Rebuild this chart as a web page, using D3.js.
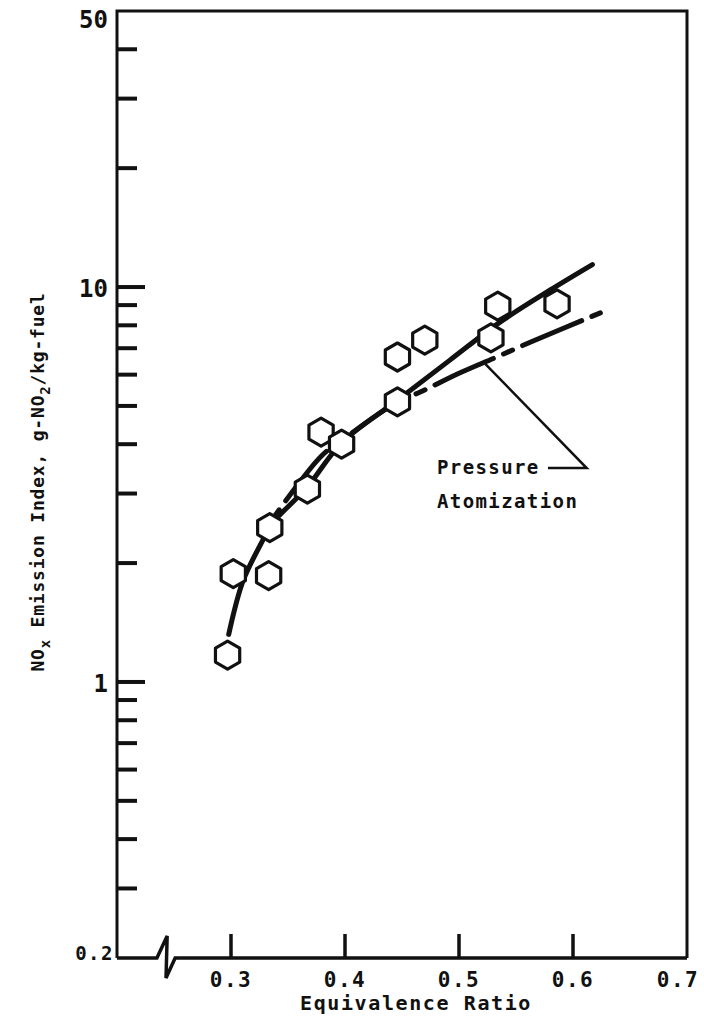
<!DOCTYPE html>
<html>
<head>
<meta charset="utf-8">
<script src="https://cdn.jsdelivr.net/npm/d3@7"></script>
<style>
  html, body { margin: 0; padding: 0; background: #fff; }
  svg { display: block; }
  text { font-family: "DejaVu Sans Mono", "Liberation Mono", monospace; fill: #111; font-weight: bold; }
</style>
</head>
<body>
<svg id="chart" width="704" height="1019"></svg>
<script>
// Equivalence ratio of each measured point and its NOx emission index (g-NO2/kg-fuel)
const phi   = [0.297, 0.302, 0.333, 0.334, 0.367, 0.379, 0.397, 0.446, 0.446, 0.470, 0.528, 0.534, 0.586];
const noxEI = [1.17,  1.88,  1.86,  2.46,  3.08,  4.29,  4.00,  6.65,  5.12,  7.34,  7.43,  8.95,  9.06];

// Fitted curve through all points
const fitPhi = [0.298, 0.3105, 0.328, 0.334, 0.367, 0.397, 0.446, 0.492, 0.536, 0.580, 0.617];
const fitEI  = [1.32,  1.80,   2.29,  2.48,  3.12,  4.03,  5.17,  6.53,  8.15,  9.83,  11.4];

// Pressure atomization curve
const paPhi = [0.335, 0.360, 0.380, 0.400, 0.446, 0.466, 0.500, 0.533, 0.565, 0.624];
const paEI  = [2.55,  3.20,  3.75,  4.15,  5.12,  5.42,  6.05,  6.65,  7.30,  8.60];

// Axis ticks
const xTicks = [0.3, 0.4, 0.5, 0.6, 0.7];
const yMajorTicks = [1, 10];
const yMinorTicks = [0.3, 0.4, 0.5, 0.6, 0.7, 0.8, 0.9, 2, 3, 4, 5, 6, 7, 8, 9, 20, 30, 40];
const yTickLabels = [0.2, 1, 10, 50];

const svg = d3.select("#chart");
const x = d3.scaleLinear().domain([0.2, 0.7]).range([117, 687]);
const y = d3.scaleLog().domain([0.2, 50]).range([958, 11]);
const y0 = y(0.2);

// Frame: left, top and right sides
svg.append("path")
  .attr("d", `M${x(0.2)},${y0} L${x(0.2)},${y(50)} L${x(0.7)},${y(50)} L${x(0.7)},${y0}`)
  .attr("fill", "none").attr("stroke", "#111").attr("stroke-width", 3);

// Bottom axis with a scale break near the origin
svg.append("path")
  .attr("d", `M${x(0.2)},${y0} L${x(0.235)},${y0} L${x(0.244)},${y0 - 22} L${x(0.243)},${y0 + 20} L${x(0.251)},${y0} L${x(0.7)},${y0}`)
  .attr("fill", "none").attr("stroke", "#111").attr("stroke-width", 3.5)
  .attr("stroke-linejoin", "miter");

// x ticks point up into the plot
svg.append("g").selectAll("line").data(xTicks.filter(d => d < 0.7)).join("line")
  .attr("x1", d => x(d)).attr("x2", d => x(d))
  .attr("y1", y0).attr("y2", y0 - 24)
  .attr("stroke", "#111").attr("stroke-width", 3.5);

svg.append("g").selectAll("text").data(xTicks).join("text")
  .attr("x", d => d === 0.7 ? x(d) - 9 : x(d))
  .attr("y", 987)
  .attr("text-anchor", "middle")
  .attr("font-size", 21).attr("letter-spacing", 1.5)
  .text(d => d3.format(".1f")(d));

svg.append("text")
  .attr("x", 416).attr("y", 1010)
  .attr("text-anchor", "middle")
  .attr("font-size", 20).attr("letter-spacing", 1.6)
  .text("Equivalence Ratio");

// y ticks
svg.append("g").selectAll("line").data(yMajorTicks).join("line")
  .attr("x1", x(0.2)).attr("x2", x(0.2) + 28)
  .attr("y1", d => y(d)).attr("y2", d => y(d))
  .attr("stroke", "#111").attr("stroke-width", 4);
svg.append("g").selectAll("line").data(yMinorTicks).join("line")
  .attr("x1", x(0.2)).attr("x2", x(0.2) + 20)
  .attr("y1", d => y(d)).attr("y2", d => y(d))
  .attr("stroke", "#111").attr("stroke-width", 4);

svg.append("g").selectAll("text").data(yTickLabels).join("text")
  .attr("x", d => d === 0.2 ? 114 : 108)
  .attr("y", d => d === 0.2 ? y(d) + 2 : d === 50 ? y(d) + 17 : y(d) + 10)
  .attr("text-anchor", "end")
  .attr("font-size", d => d === 0.2 ? 19 : 24)
  .attr("letter-spacing", d => d === 0.2 ? 1.5 : 0)
  .text(d => String(d));

// y axis title
const yTitle = svg.append("text")
  .attr("transform", "translate(44,482) rotate(-90)")
  .attr("text-anchor", "middle")
  .attr("font-size", 18).attr("letter-spacing", 0.8);
yTitle.append("tspan").text("NO");
yTitle.append("tspan").attr("font-size", 14).attr("dy", 6).text("x");
yTitle.append("tspan").attr("dy", -6).text(" Emission Index, g-NO");
yTitle.append("tspan").attr("font-size", 14).attr("dy", 6).text("2");
yTitle.append("tspan").attr("dy", -6).text("/kg-fuel");

// Curves
const line = d3.line().x(d => x(d[0])).y(d => y(d[1])).curve(d3.curveCatmullRom.alpha(0.5));

const paPath = svg.append("path")
  .datum(paPhi.map((p, i) => [p, paEI[i]]))
  .attr("d", line)
  .attr("fill", "none").attr("stroke", "#111").attr("stroke-width", 5)
  .attr("stroke-linecap", "round");

// Align the long-short dash pattern so a long dash starts at phi = 0.479
const node = paPath.node();
const total = node.getTotalLength();
let lo = 0, hi = total;
for (let k = 0; k < 40; k++) {
  const mid = (lo + hi) / 2;
  if (node.getPointAtLength(mid).x < x(0.479)) lo = mid; else hi = mid;
}
const period = 64 + 11 + 10 + 11;
paPath.attr("stroke-dasharray", "64,11,10,11")
  .attr("stroke-dashoffset", -(lo % period) + period);

svg.append("path")
  .datum(fitPhi.map((p, i) => [p, fitEI[i]]))
  .attr("d", line)
  .attr("fill", "none").attr("stroke", "#111").attr("stroke-width", 5)
  .attr("stroke-linecap", "round");

// Hexagon markers
const hexR = 14;
const hexPts = d3.range(6).map(k => {
  const a = Math.PI / 2 + k * Math.PI / 3;
  return [hexR * Math.cos(a), hexR * Math.sin(a)];
});
const hexPath = "M" + hexPts.map(p => p.join(",")).join("L") + "Z";

svg.append("g").selectAll("path").data(phi.map((p, i) => [p, noxEI[i]])).join("path")
  .attr("transform", d => `translate(${x(d[0])},${y(d[1])})`)
  .attr("d", hexPath)
  .attr("fill", "#fff").attr("stroke", "#111").attr("stroke-width", 3.2)
  .attr("stroke-linejoin", "round");

// Label with leader to the pressure atomization curve
const leadPhi = 0.523;
let l2 = 0, h2 = total;
for (let k = 0; k < 40; k++) {
  const mid = (l2 + h2) / 2;
  if (node.getPointAtLength(mid).x < x(leadPhi)) l2 = mid; else h2 = mid;
}
const anchor = node.getPointAtLength(l2);
svg.append("path")
  .attr("d", `M${anchor.x},${anchor.y + 2} L${x(0.612)},${y(3.48)} L${x(0.578)},${y(3.48)}`)
  .attr("fill", "none").attr("stroke", "#111").attr("stroke-width", 2.5);

svg.append("text").attr("x", 437).attr("y", 474)
  .attr("font-size", 19).attr("letter-spacing", 1.4).text("Pressure");
svg.append("text").attr("x", 437).attr("y", 508)
  .attr("font-size", 19).attr("letter-spacing", 1.4).text("Atomization");
</script>
</body>
</html>
